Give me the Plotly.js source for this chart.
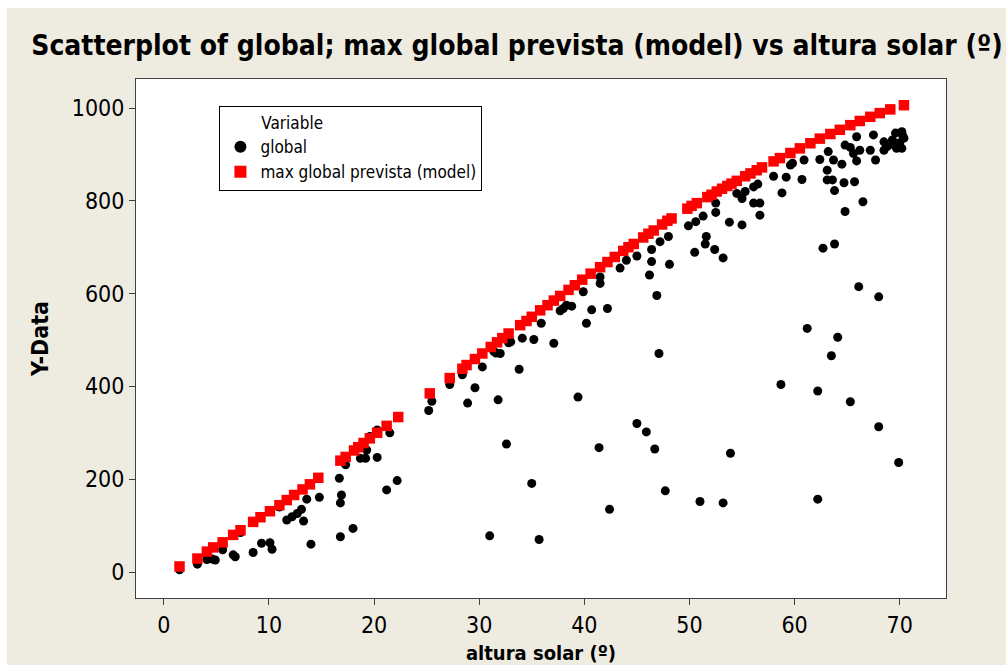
<!DOCTYPE html>
<html>
<head>
<meta charset="utf-8">
<script src="https://cdn.plot.ly/plotly-3.0.1.min.js"></script>
<style>
html,body{margin:0;padding:0;background:#ffffff;width:1006px;height:665px;overflow:hidden;}
#chart{position:absolute;left:7px;top:8px;width:999px;height:657px;}
</style>
</head>
<body>
<div id="chart"></div>
<script>
const alturaGlobal = [1.5,3.2,4.1,4.6,4.9,5.6,6.6,6.8,7.3,8.5,9.3,10.1,10.3,11.0,11.7,12.2,12.7,13.1,13.3,13.6,14.0,14.8,
16.7,16.8,16.8,16.9,17.3,18.0,18.7,19.2,19.3,19.6,20.3,20.3,21.5,21.2,22.2,
25.2,25.5,27.2,28.4,28.9,29.6,30.3,31.0,31.4,31.6,31.8,32.0,32.6,32.8,33.0,33.8,34.1,35.0,35.2,35.7,35.9,
37.1,37.7,38.0,38.3,38.8,39.4,39.9,40.2,40.7,41.4,41.5,41.5,42.2,42.4,43.4,44.0,45.0,45.0,45.9,46.2,46.4,46.4,46.7,46.9,
47.1,47.2,47.7,48.0,48.1,49.9,50.5,50.6,51.0,51.3,51.5,51.6,52.4,52.5,52.5,53.2,53.2,53.8,53.9,54.5,55.0,55.0,55.3,
56.1,56.1,56.5,56.7,56.7,58.0,58.7,58.8,59.2,59.6,59.8,60.7,60.9,61.2,62.2,62.2,62.4,62.7,63.1,63.1,63.2,63.5,63.6,
63.7,63.8,63.8,64.1,64.5,64.7,64.8,64.8,65.3,65.3,65.6,65.7,65.9,65.9,66.1,66.2,66.5,67.2,67.5,67.7,68.0,68.0,68.5,
68.5,68.8,69.3,69.5,69.6,69.7,69.9,70.0,70.2,70.2,70.3,70.4];
const globalVals = [5,17,27,28,26,48,37,33,85,42,62,63,49,140,112,119,126,135,110,157,60,161,
202,149,76,166,231,94,245,245,263,292,306,247,300,177,197,
348,368,404,425,364,397,442,78,475,472,371,471,276,494,496,437,504,191,501,70,536,
493,563,568,575,573,377,604,536,565,268,622,636,568,135,655,672,681,320,302,640,695,669,265,596,
471,712,175,723,663,746,689,755,152,767,707,723,695,795,775,677,149,754,256,816,805,748,820,
830,795,836,795,769,853,404,817,851,877,881,846,888,525,390,157,889,698,866,845,906,466,845,
888,822,707,506,879,839,920,777,367,915,902,841,886,938,615,909,798,909,942,888,593,313,927,
909,917,931,920,946,913,236,925,949,913,940,935];

const alturaModel = [1.5,3.2,4.1,4.7,5.6,6.6,7.3,8.5,9.2,10.1,11.0,11.7,12.4,13.2,13.9,14.7,
16.8,17.3,18.1,18.5,19.0,19.6,20.3,21.2,22.3,
25.3,27.2,28.4,28.8,29.6,30.3,31.1,31.7,32.2,32.8,33.9,34.5,35.0,35.8,36.5,37.1,37.7,38.5,39.1,39.8,
40.6,41.5,42.2,42.9,43.7,44.2,44.7,45.6,46.1,46.6,47.4,47.9,48.3,
49.8,50.2,50.7,51.7,52.1,52.6,53.1,53.6,54.0,54.5,55.3,55.8,56.4,56.9,
58.0,58.6,59.6,60.5,61.5,62.4,63.4,64.3,65.3,66.2,67.2,68.1,69.1,70.4];
const modelVals = [12,29,44,53,64,80,90,108,118,131,144,155,166,178,189,203,
240,248,262,269,278,288,300,315,334,
385,418,438,446,459,471,485,495,504,514,532,541,550,564,575,585,595,608,618,630,
643,657,668,679,692,700,707,721,729,736,749,757,762,
783,789,795,808,813,820,826,832,837,843,853,859,866,872,
885,892,903,913,924,934,944,953,963,972,981,989,997,1006];

const xTicks = [0,10,20,30,40,50,60,70];
const yTicks = [0,200,400,600,800,1000];

const FONT = '"DejaVu Sans Condensed", "Liberation Sans", sans-serif';
const BG = '#eeebe1';

const traces = [
  {x: alturaGlobal, y: globalVals, type: 'scatter', mode: 'markers', name: 'global',
   marker: {symbol: 'circle', size: 9, color: '#000000'}},
  {x: alturaModel, y: modelVals, type: 'scatter', mode: 'markers', name: 'max global prevista (model)',
   marker: {symbol: 'square', size: 10.5, color: '#ff0000'}}
];

const axisCommon = {
  showgrid: false, zeroline: false, showline: true, mirror: true,
  linecolor: '#404040', linewidth: 1,
  ticks: 'outside', ticklen: 6, tickcolor: '#404040', tickwidth: 1,
  tickfont: {family: FONT, size: 23, color: '#000000'}
};

const layout = {
  width: 999, height: 657,
  paper_bgcolor: BG, plot_bgcolor: '#ffffff',
  margin: {l: 129, r: 60, t: 71, b: 67},
  font: {family: FONT, color: '#000000'},
  title: {text: 'Scatterplot of global; max global prevista (model) vs altura solar (º)',
          font: {family: FONT, size: 28, color: '#000000', weight: 'bold'},
          x: 0.5105, xref: 'container', xanchor: 'center',
          y: 0.944, yref: 'container', yanchor: 'middle'},
  xaxis: Object.assign({}, axisCommon, {
    range: [-2.64, 74.4], tickvals: xTicks, ticktext: xTicks.map(String),
    automargin: false,
    title: {text: 'altura solar (º)', font: {family: FONT, size: 20, weight: 'bold', color: '#000000'}}
  }),
  yaxis: Object.assign({}, axisCommon, {
    range: [-56, 1062.5], tickvals: yTicks, ticktext: yTicks.map(String),
    automargin: true,
    title: {text: 'Y-Data', font: {family: FONT, size: 23, weight: 'bold', color: '#000000'}, standoff: 16}
  }),
  showlegend: true,
  legend: {
    x: 0.103, y: 0.948, xanchor: 'left', yanchor: 'top',
    bgcolor: '#ffffff', bordercolor: '#000000', borderwidth: 1,
    font: {family: FONT, size: 17, color: '#000000'},
    title: {text: '\u00a0\u00a0\u00a0\u00a0\u00a0\u00a0\u00a0\u00a0Variable', font: {family: FONT, size: 17, color: '#000000'}},
    itemsizing: 'constant'
  }
};

Plotly.newPlot('chart', traces, layout, {displayModeBar: false, responsive: false});
</script>
</body>
</html>
